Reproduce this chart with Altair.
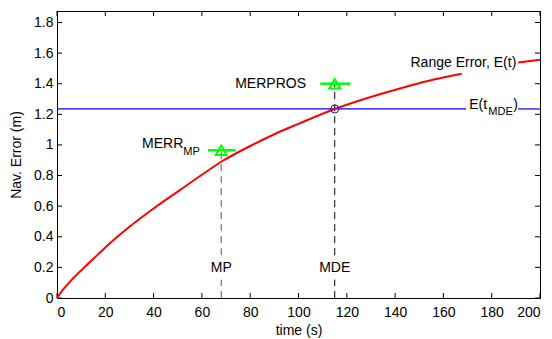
import altair as alt
import pandas as pd

# ---- data ----
# Range error curve E(t) (two pieces: the label interrupts it)
t_curve_a = [0, 2, 5, 10, 15, 20, 30, 40, 50, 60, 68, 80, 90, 100, 115, 125, 134, 145, 156, 167.6]
e_curve_a = [0, 0.045, 0.10, 0.18, 0.255, 0.33, 0.465, 0.585, 0.695, 0.805, 0.89, 0.993, 1.07, 1.138, 1.235, 1.289, 1.333, 1.382, 1.427, 1.465]
t_curve_b = [191, 200]
e_curve_b = [1.538, 1.557]

# E(t_MDE) horizontal line (interrupted by its label)
e_mde = 1.235
t_mde_line_start = [0, 190.9]
t_mde_line_end = [169.4, 200]

# event times
t_mp = 68
t_mde = 115

# green markers and their horizontal bars
merr_mp = 0.965
merpros = 1.40
merr_bar = [62.5, 74.0]
merpros_bar = [109.0, 121.5]

# dashed verticals (lower piece / upper piece, label gap between)
dash_lo = [0, 0.12]
dash_hi_start = 0.28

x_ticks = [0, 20, 40, 60, 80, 100, 120, 140, 160, 180, 200]
y_ticks = [0, 0.2, 0.4, 0.6, 0.8, 1.0, 1.2, 1.4, 1.6, 1.8]

# annotation texts (data coordinates)
ann_text = ["MERPROS", "MERR", "Range Error, E(t)", "E(t", ")", "MP", "MDE"]
ann_t = [103.1, 52.3, 190.2, 170.7, 188.9, t_mp, t_mde]
ann_e = [1.40, 1.003, 1.533, 1.261, 1.261, 0.198, 0.198]
ann_align = ["right", "right", "right", "left", "left", "center", "center"]
sub_text = ["MP", "MDE"]
sub_t = [52.3, 178.6]
sub_e = [0.954, 1.216]

W, H = 483, 287
FONT = "Liberation Sans"

xs = alt.Scale(domain=[0, 200], nice=False, zero=False)
ys = alt.Scale(domain=[0, 1.875], nice=False, zero=False)
X = lambda f="t": alt.X(f"{f}:Q", scale=xs, title="time (s)",
                        axis=alt.Axis(values=x_ticks, labelPadding=7, titlePadding=4))
Y = lambda f="e": alt.Y(f"{f}:Q", scale=ys, title="Nav. Error (m)",
                        axis=alt.Axis(values=y_ticks, labelPadding=4, titlePadding=10,
                                      labelExpr="datum.value == 0 ? '0' : datum.value == 1 ? '1' : format(datum.value, '.1f')"))

curve_df = pd.DataFrame({
    "t": t_curve_a + t_curve_b,
    "e": e_curve_a + e_curve_b,
    "seg": ["a"] * len(t_curve_a) + ["b"] * len(t_curve_b),
})
curve = alt.Chart(curve_df).mark_line(color="#ff0000", strokeWidth=2, interpolate="monotone").encode(
    x=X(), y=Y(), detail="seg:N")

hline_df = pd.DataFrame({"t": t_mde_line_start, "t2": t_mde_line_end, "e": [e_mde, e_mde]})
hline = alt.Chart(hline_df).mark_rule(color="#0000ff", strokeWidth=1.2).encode(
    x=X(), x2="t2", y=Y())

dash_df = pd.DataFrame({
    "t": [t_mp, t_mp, t_mde, t_mde],
    "e": [dash_lo[0], dash_hi_start, dash_lo[0], dash_hi_start],
    "e2": [dash_lo[1], merr_mp, dash_lo[1], merpros],
    "c": ["mp", "mp", "mde", "mde"],
})
dashes = alt.Chart(dash_df).mark_rule(strokeDash=[7, 5], strokeWidth=1).encode(
    x=X(), y=Y(), y2="e2",
    color=alt.Color("c:N", scale=alt.Scale(domain=["mp", "mde"], range=["#555555", "#000000"]), legend=None))

bar_df = pd.DataFrame({"t": [merr_bar[0], merpros_bar[0]], "t2": [merr_bar[1], merpros_bar[1]],
                       "e": [merr_mp, merpros]})
bars = alt.Chart(bar_df).mark_rule(color="#00ff00", strokeWidth=2.5).encode(x=X(), x2="t2", y=Y())

tri_df = pd.DataFrame({"t": [t_mp, t_mde], "e": [merr_mp, merpros]})
tris = alt.Chart(tri_df).mark_point(shape="triangle-up", color="#00ff00", filled=False,
                                    size=120, strokeWidth=2, opacity=1).encode(x=X(), y=Y())

circ_df = pd.DataFrame({"t": [t_mde], "e": [e_mde]})
circ = alt.Chart(circ_df).mark_point(shape="circle", color="#0000ff", filled=False,
                                     size=64, strokeWidth=1, opacity=1).encode(x=X(), y=Y())

ann_df = pd.DataFrame({"t": ann_t, "e": ann_e, "txt": ann_text, "al": ann_align})
texts = []
for al in ["left", "right", "center"]:
    texts.append(alt.Chart(ann_df[ann_df.al == al]).mark_text(
        align=al, baseline="middle", font=FONT, fontSize=14, color="black").encode(
        x=X(), y=Y(), text="txt:N"))
sub_df = pd.DataFrame({"t": sub_t, "e": sub_e, "txt": sub_text})
subs = alt.Chart(sub_df).mark_text(align="left", baseline="middle", font=FONT, fontSize=11,
                                   color="black").encode(x=X(), y=Y(), text="txt:N")

# inward ticks on all four sides
xt_df = pd.DataFrame({"t": x_ticks})
yt_df = pd.DataFrame({"e": y_ticks})
tk = dict(color="black", strokeWidth=1)
tick_b = alt.Chart(xt_df).mark_rule(**tk).encode(x=X(), y=alt.value(H), y2=alt.value(H - 5))
tick_t = alt.Chart(xt_df).mark_rule(**tk).encode(x=X(), y=alt.value(0), y2=alt.value(5))
tick_l = alt.Chart(yt_df).mark_rule(**tk).encode(y=Y(), x=alt.value(0), x2=alt.value(5))
tick_r = alt.Chart(yt_df).mark_rule(**tk).encode(y=Y(), x=alt.value(W), x2=alt.value(W - 5))

chart = alt.layer(
    tick_b, tick_t, tick_l, tick_r,
    hline, dashes, curve, bars, tris, circ, *texts, subs
).properties(
    width=W, height=H,
    autosize=alt.AutoSizeParams(type="none"),
    padding={"left": 57, "top": 11, "right": 12, "bottom": 41},
    background="white",
).configure_view(
    stroke="black", strokeWidth=1
).configure_axis(
    domain=False, grid=False, ticks=False, tickSize=0,
    labelFont=FONT, labelFontSize=14, labelColor="black",
    titleFont=FONT, titleFontSize=14, titleFontWeight="normal", titleColor="black",
)

chart.save("out.html", embed_options={"renderer": "svg", "actions": False})
